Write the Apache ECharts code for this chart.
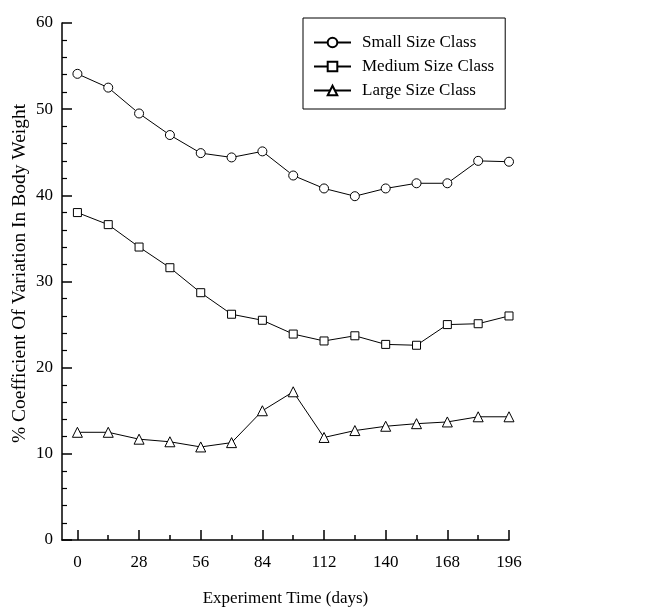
<!DOCTYPE html>
<html>
<head>
<meta charset="utf-8">
<script src="https://cdn.jsdelivr.net/npm/echarts@6/dist/echarts.min.js"></script>
<style>html,body{margin:0;padding:0;background:#fff}#c{width:645px;height:608px}</style>
</head>
<body>
<div id="c"></div>
<script>
var days = [0, 14, 28, 42, 56, 70, 84, 98, 112, 126, 140, 154, 168, 182, 196];
var majorTicks = [0, 28, 56, 84, 112, 140, 168, 196];
var minorTicks = [14, 42, 70, 98, 126, 154, 182];
var smallCV = [54.1, 52.5, 49.5, 47.0, 44.9, 44.4, 45.1, 42.3, 40.8, 39.9, 40.8, 41.4, 41.4, 44.0, 43.9];
var mediumCV = [38.0, 36.6, 34.0, 31.6, 28.7, 26.2, 25.5, 23.9, 23.1, 23.7, 22.7, 22.6, 25.0, 25.1, 26.0];
var largeCV = [12.5, 12.5, 11.7, 11.4, 10.8, 11.3, 15.0, 17.2, 11.9, 12.7, 13.2, 13.5, 13.7, 14.3, 14.3];
var seriesNames = ['Small Size Class', 'Medium Size Class', 'Large Size Class'];
var xTitle = 'Experiment Time (days)';
var yTitle = '% Coefficient Of Variation In Body Weight';

function pairs(v) { return days.map(function (d, i) { return [d, v[i]]; }); }

var font = 'Liberation Serif';
var chart = echarts.init(document.getElementById('c'), null, { renderer: 'canvas' });
var lineStyle = { color: '#000', width: 1 };
var itemStyle = { color: '#fff', borderColor: '#000', borderWidth: 1 };
function mk(name, data, symbol, size) {
  return {
    name: name, type: 'line', data: pairs(data), symbol: symbol, symbolSize: size,
    showAllSymbol: true, lineStyle: lineStyle, itemStyle: itemStyle, emphasis: { disabled: true },
    animation: false, z: 3
  };
}
chart.setOption({
  backgroundColor: '#fff',
  animation: false,
  grid: { left: 62, right: 136, top: 23, bottom: 68, containLabel: false, outerBoundsMode: 'none' },
  legend: {
    orient: 'vertical', left: 303, top: 18, width: 202,
    padding: [16, 11, 10, 10], itemGap: 7, itemWidth: 37, itemHeight: 12,
    borderColor: '#000', borderWidth: 1, backgroundColor: '#fff',
    textStyle: { fontFamily: font, fontSize: 17, color: '#000', padding: [0, 0, 0, 6] },
    data: seriesNames, selectedMode: false
  },
  xAxis: [{
    type: 'value', min: -7, max: 196,
    axisLine: { onZero: false, lineStyle: { color: '#000', width: 1.5 } },
    axisTick: { inside: true, length: 10, customValues: majorTicks, lineStyle: { color: '#000', width: 1.5 } },
    axisLabel: { customValues: majorTicks, fontFamily: font, fontSize: 17, color: '#000', margin: 14 },
    splitLine: { show: false },
    name: xTitle, nameLocation: 'middle', nameGap: 50, nameMoveOverlap: false,
    nameTextStyle: { fontFamily: font, fontSize: 17, color: '#000' }
  }, {
    type: 'value', min: -7, max: 196, position: 'bottom',
    axisLine: { show: false, onZero: false },
    axisTick: { inside: true, length: 5, customValues: minorTicks, lineStyle: { color: '#000', width: 1.5 } },
    axisLabel: { show: false }, splitLine: { show: false }
  }],
  yAxis: {
    type: 'value', min: 0, max: 60, interval: 10,
    axisLine: { show: true, onZero: false, lineStyle: { color: '#000', width: 1.5 } },
    axisTick: { show: true, inside: true, length: 10, lineStyle: { color: '#000', width: 1.5 } },
    minorTick: { show: true, splitNumber: 5, length: 5, lineStyle: { color: '#000', width: 1.2 } },
    axisLabel: { fontFamily: font, fontSize: 17, color: '#000', margin: 9 },
    splitLine: { show: false },
    name: yTitle, nameLocation: 'middle', nameGap: 32, nameMoveOverlap: false,
    nameTextStyle: { fontFamily: font, fontSize: 19.5, color: '#000', padding: [0, 0, 0, 16] }
  },
  series: [
    mk(seriesNames[0], smallCV, 'circle', 9),
    mk(seriesNames[1], mediumCV, 'rect', 8),
    mk(seriesNames[2], largeCV, 'triangle', 10)
  ]
});
</script>
</body>
</html>
